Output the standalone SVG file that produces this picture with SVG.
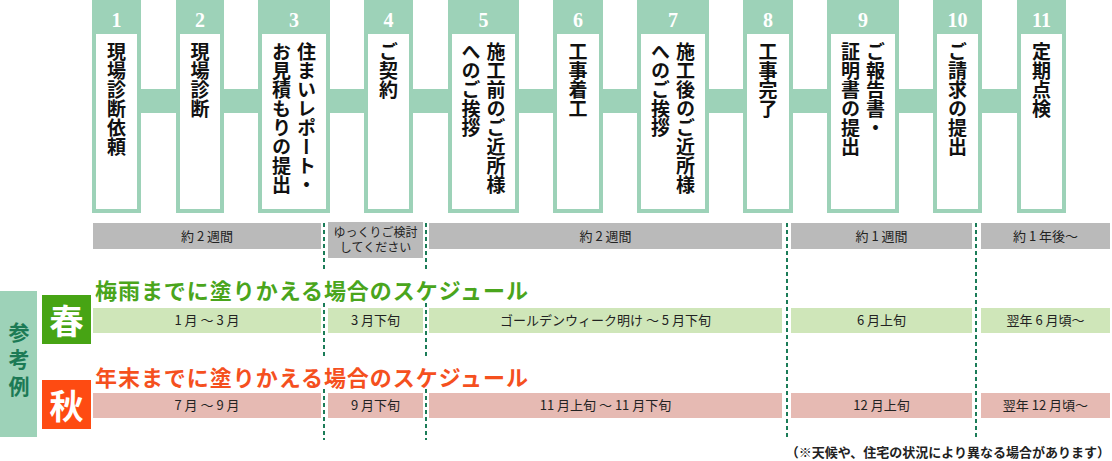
<svg xmlns="http://www.w3.org/2000/svg" width="1112" height="461" viewBox="0 0 1112 461">
<style>
.frame{fill:#9dd2b8}
.inner{fill:#ffffff}
.band{fill:#9dd2b8}
.num{font-family:"Liberation Serif",serif;font-weight:700;font-size:20px;fill:#ffffff;text-anchor:middle}
.vt{font-family:"Noto Sans CJK JP",sans-serif;font-weight:700;font-size:19px;fill:#111;writing-mode:vertical-rl}
.gray{fill:#bababa}
.green{fill:#cfe6b9}
.red{fill:#e6bab3}
.bt{font-family:"Noto Sans CJK JP",sans-serif;font-size:13px;fill:#222;text-anchor:middle}
.bts{font-family:"Noto Sans CJK JP",sans-serif;font-size:12px;fill:#222;text-anchor:middle}
.dot{stroke:#1b7c58;stroke-width:2;stroke-dasharray:4 3;fill:none}
.head{font-family:"Noto Sans CJK JP",sans-serif;font-weight:700;font-size:22px}
.season{font-family:"Noto Sans CJK JP",sans-serif;font-weight:700;font-size:34px;fill:#fff;text-anchor:middle;dominant-baseline:central}
.side{font-family:"Noto Sans CJK JP",sans-serif;font-weight:700;font-size:21px;fill:#1c7a55;writing-mode:vertical-rl;letter-spacing:6px}
.note{font-family:"Noto Sans CJK JP",sans-serif;font-weight:700;font-size:13px;fill:#222;text-anchor:end}
</style>

<g id="connectors">
<rect class="band" x="141" y="89" width="35" height="24"/>
<rect class="band" x="224" y="89" width="34" height="24"/>
<rect class="band" x="330" y="89" width="34" height="24"/>
<rect class="band" x="413" y="89" width="35" height="24"/>
<rect class="band" x="519" y="89" width="34" height="24"/>
<rect class="band" x="603" y="89" width="34" height="24"/>
<rect class="band" x="709" y="89" width="34" height="24"/>
<rect class="band" x="793" y="89" width="34" height="24"/>
<rect class="band" x="899" y="89" width="34" height="24"/>
<rect class="band" x="982" y="89" width="35" height="24"/>
</g>

<g id="step1"><rect class="frame" x="92" y="0" width="49" height="213"/><rect class="inner" x="96" y="34" width="41" height="175"/><text class="num" x="116.5" y="27">1</text><text class="vt" x="116.5" y="42">現場診断依頼</text></g>
<g id="step2"><rect class="frame" x="176" y="0" width="48" height="213"/><rect class="inner" x="180" y="34" width="40" height="175"/><text class="num" x="200" y="27">2</text><text class="vt" x="200" y="42">現場診断</text></g>
<g id="step3"><rect class="frame" x="258" y="0" width="72" height="213"/><rect class="inner" x="262" y="34" width="64" height="175"/><text class="num" x="294" y="27">3</text><text class="vt" x="306.5" y="42">住まいレポート・</text><text class="vt" x="281.5" y="42">お見積もりの提出</text></g>
<g id="step4"><rect class="frame" x="364" y="0" width="49" height="213"/><rect class="inner" x="368" y="34" width="41" height="175"/><text class="num" x="388.5" y="27">4</text><text class="vt" x="388.5" y="42">ご契約</text></g>
<g id="step5"><rect class="frame" x="448" y="0" width="71" height="213"/><rect class="inner" x="452" y="34" width="63" height="175"/><text class="num" x="483.5" y="27">5</text><text class="vt" x="496" y="42">施工前のご近所様</text><text class="vt" x="471" y="42">へのご挨拶</text></g>
<g id="step6"><rect class="frame" x="553" y="0" width="50" height="213"/><rect class="inner" x="557" y="34" width="42" height="175"/><text class="num" x="578" y="27">6</text><text class="vt" x="578" y="42">工事着工</text></g>
<g id="step7"><rect class="frame" x="637" y="0" width="72" height="213"/><rect class="inner" x="641" y="34" width="64" height="175"/><text class="num" x="673" y="27">7</text><text class="vt" x="685.5" y="42">施工後のご近所様</text><text class="vt" x="660.5" y="42">へのご挨拶</text></g>
<g id="step8"><rect class="frame" x="743" y="0" width="50" height="213"/><rect class="inner" x="747" y="34" width="42" height="175"/><text class="num" x="768" y="27">8</text><text class="vt" x="768" y="42">工事完了</text></g>
<g id="step9"><rect class="frame" x="827" y="0" width="72" height="213"/><rect class="inner" x="831" y="34" width="64" height="175"/><text class="num" x="863" y="27">9</text><text class="vt" x="875.5" y="42">ご報告書・</text><text class="vt" x="850.5" y="42">証明書の提出</text></g>
<g id="step10"><rect class="frame" x="933" y="0" width="49" height="213"/><rect class="inner" x="937" y="34" width="41" height="175"/><text class="num" x="957.5" y="27">10</text><text class="vt" x="957.5" y="42">ご請求の提出</text></g>
<g id="step11"><rect class="frame" x="1017" y="0" width="49" height="213"/><rect class="inner" x="1021" y="34" width="41" height="175"/><text class="num" x="1041.5" y="27">11</text><text class="vt" x="1041.5" y="42">定期点検</text></g>

<g id="dividers">
<line class="dot" x1="324" y1="223" x2="324" y2="270"/>
<line class="dot" x1="324" y1="303" x2="324" y2="357"/>
<line class="dot" x1="324" y1="389" x2="324" y2="440"/>
<line class="dot" x1="426" y1="223" x2="426" y2="270"/>
<line class="dot" x1="426" y1="303" x2="426" y2="357"/>
<line class="dot" x1="426" y1="389" x2="426" y2="440"/>
<line class="dot" x1="787" y1="223" x2="787" y2="440"/>
<line class="dot" x1="976" y1="223" x2="976" y2="440"/>
</g>

<g id="durations">
<rect class="gray" x="93" y="223" width="228" height="26"/><text class="bt" x="207" y="241">約 2 週間</text>
<rect class="gray" x="328" y="222" width="95" height="36"/><text class="bts" x="375.5" y="237">ゆっくりご検討</text><text class="bts" x="375.5" y="252">してください</text>
<rect class="gray" x="429" y="223" width="353" height="26"/><text class="bt" x="605.5" y="241">約 2 週間</text>
<rect class="gray" x="791" y="223" width="181" height="26"/><text class="bt" x="881.5" y="241">約 1 週間</text>
<rect class="gray" x="981" y="223" width="129" height="26"/><text class="bt" x="1045.5" y="241">約 1 年後～</text>
</g>

<g id="side-label">
<rect x="0" y="291" width="37" height="146" fill="#9dd2b8"/>
<text class="side" x="19" y="322">参考例</text>
</g>

<g id="spring">
<rect x="42" y="295" width="49" height="49" fill="#47a414"/>
<text class="season" x="66.5" y="319">春</text>
<text class="head" x="95" y="299" fill="#4aa51c" textLength="433" lengthAdjust="spacing">梅雨までに塗りかえる場合のスケジュール</text>
<rect class="green" x="93" y="308" width="228" height="25"/><text class="bt" x="207" y="325">1 月 ～ 3 月</text>
<rect class="green" x="328" y="308" width="95" height="25"/><text class="bt" x="375.5" y="325">3 月下旬</text>
<rect class="green" x="429" y="308" width="353" height="25"/><text class="bt" x="605.5" y="325">ゴールデンウィーク明け ～ 5 月下旬</text>
<rect class="green" x="791" y="308" width="181" height="25"/><text class="bt" x="881.5" y="325">6 月上旬</text>
<rect class="green" x="981" y="308" width="129" height="25"/><text class="bt" x="1045.5" y="325">翌年 6 月頃～</text>
</g>

<g id="autumn">
<rect x="42" y="380" width="49" height="49" fill="#fe4b12"/>
<text class="season" x="66.5" y="404">秋</text>
<text class="head" x="95" y="386" fill="#f5501e" textLength="433" lengthAdjust="spacing">年末までに塗りかえる場合のスケジュール</text>
<rect class="red" x="93" y="393" width="228" height="25"/><text class="bt" x="207" y="410">7 月 ～ 9 月</text>
<rect class="red" x="328" y="393" width="95" height="25"/><text class="bt" x="375.5" y="410">9 月下旬</text>
<rect class="red" x="429" y="393" width="353" height="25"/><text class="bt" x="605.5" y="410">11 月上旬 ～ 11 月下旬</text>
<rect class="red" x="791" y="393" width="181" height="25"/><text class="bt" x="881.5" y="410">12 月上旬</text>
<rect class="red" x="981" y="393" width="129" height="25"/><text class="bt" x="1045.5" y="410">翌年 12 月頃～</text>
</g>

<g id="note">
<text class="note" x="1110" y="457">（※天候や、住宅の状況により異なる場合があります）</text>
</g>
</svg>
